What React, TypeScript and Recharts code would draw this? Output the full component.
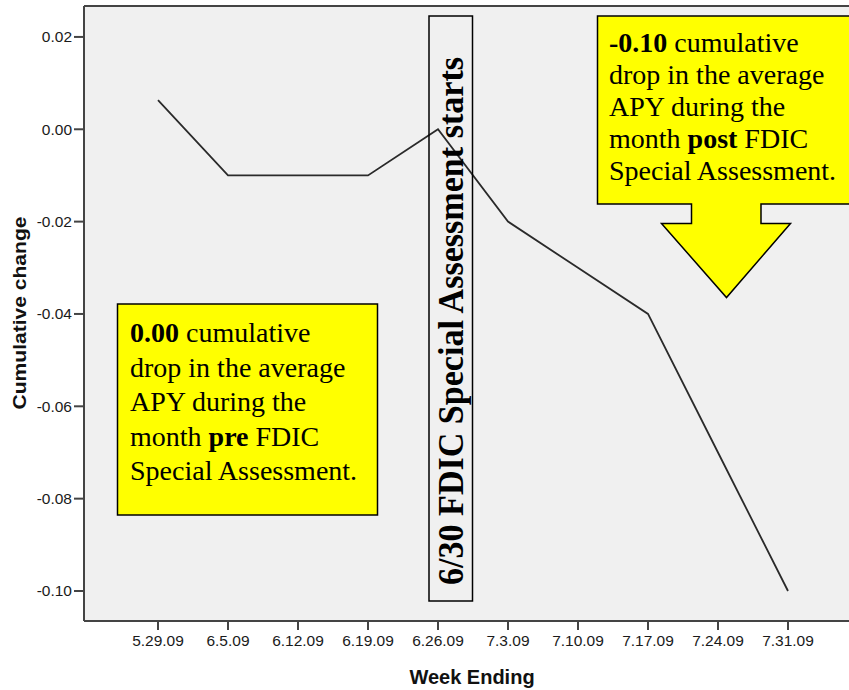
import React from "react"
import { LineChart, Line, XAxis, YAxis, CartesianGrid, ReferenceLine } from "recharts"

const weeks = ["5.29.09", "6.5.09", "6.12.09", "6.19.09", "6.26.09", "7.3.09", "7.10.09", "7.17.09", "7.24.09", "7.31.09"]
const changes = [0.0063, -0.01, -0.01, -0.01, 0, -0.02, -0.03, -0.04, -0.07, -0.1]
const yTicks = [0.02, 0, -0.02, -0.04, -0.06, -0.08, -0.1]

const preLines = ["cumulative", "drop in the average", "APY during the", "month ", "Special Assessment."]
const postLines = ["cumulative", "drop in the average", "APY during the", "month ", "Special Assessment."]

const data = weeks.map((w, i) => ({ week: w, change: changes[i] }))

const Y_TOP = 0.0267
const Y_BOTTOM = -0.1065
const serif = "'Liberation Serif', 'Times New Roman', serif"
const sans = "'Liberation Sans', Arial, sans-serif"

function NoteText({ x, y, gap, bold, word, lines }: { x: number; y: number; gap: number; bold: string; word: string; lines: string[] }) {
  return (
    <text fontFamily={serif} fontSize={28} fill="#000">
      <tspan x={x} y={y} fontWeight="bold">{bold}</tspan>
      <tspan> {lines[0]}</tspan>
      <tspan x={x} y={y + gap}>{lines[1]}</tspan>
      <tspan x={x} y={y + gap * 2}>{lines[2]}</tspan>
      <tspan x={x} y={y + gap * 3}>{lines[3]}</tspan>
      <tspan fontWeight="bold">{word}</tspan>
      <tspan> FDIC</tspan>
      <tspan x={x} y={y + gap * 4}>{lines[4]}</tspan>
    </text>
  )
}

export default function App() {
  return (
    <div style={{ position: "absolute", left: 0, top: 0, width: 849, height: 690, background: "#fff", overflow: "hidden" }}>
      <LineChart width={849} height={690} data={data} margin={{ top: 6, right: 0, bottom: 0, left: 0 }}>
        <CartesianGrid fill="#f0f0f0" fillOpacity={1} stroke="none" horizontal={false} vertical={false} />
        <XAxis
          dataKey="week"
          height={69}
          padding={{ left: 74, right: 61 }}
          tickSize={9}
          tickMargin={5}
          axisLine={{ stroke: "#444", strokeWidth: 2 }}
          tickLine={{ stroke: "#444", strokeWidth: 2 }}
          tick={{ fontSize: 15.5, fontFamily: sans, fill: "#1a1a1a" }}
          interval={0}
        />
        <YAxis
          width={84}
          type="number"
          domain={[Y_BOTTOM, Y_TOP]}
          ticks={yTicks}
          allowDataOverflow
          tickFormatter={(v: number) => v.toFixed(2)}
          tickSize={10}
          tickMargin={2}
          axisLine={{ stroke: "#444", strokeWidth: 2 }}
          tickLine={{ stroke: "#444", strokeWidth: 2 }}
          tick={{ fontSize: 15.5, fontFamily: sans, fill: "#1a1a1a" }}
        />
        <ReferenceLine y={Y_TOP} stroke="#444" strokeWidth={2} />
        <Line type="linear" dataKey="change" stroke="#2a2a2a" strokeWidth={1.8} dot={false} isAnimationActive={false} />
      </LineChart>

      <svg width={849} height={690} style={{ position: "absolute", left: 0, top: 0, pointerEvents: "none" }}>
        <text
          x={20}
          y={313}
          transform="rotate(-90 20 313)"
          textAnchor="middle"
          dominantBaseline="central"
          fontFamily={sans}
          fontWeight="bold"
          fontSize={18}
          textLength={193}
          lengthAdjust="spacingAndGlyphs"
          fill="#111"
        >
          Cumulative change
        </text>
        <text x={472} y={684} textAnchor="middle" fontFamily={sans} fontWeight="bold" fontSize={20} fill="#111">
          Week Ending
        </text>

        <rect x={429} y={16} width={43.5} height={585} fill="none" stroke="#000" strokeWidth={1.5} />
        <text
          x={462.5}
          y={321}
          transform="rotate(-90 462.5 321)"
          textAnchor="middle"
          fontFamily={serif}
          fontWeight="bold"
          fontSize={35}
          textLength={528}
          lengthAdjust="spacingAndGlyphs"
          fill="#000"
        >
          6/30 FDIC Special Assessment starts
        </text>

        <rect x={117.5} y={304} width={260} height={211} fill="#ffff00" stroke="#000" strokeWidth={1.5} />
        <NoteText x={130} y={342} gap={34.6} bold="0.00" word="pre" lines={preLines} />

        <path
          d="M597.5,16 L860,16 L860,204 L761,204 L761,223.5 L790.5,223.5 L726.5,297.5 L661.5,223.5 L691.5,223.5 L691.5,204 L597.5,204 Z"
          fill="#ffff00"
          stroke="#000"
          strokeWidth={1.5}
        />
        <NoteText x={609} y={52} gap={32.1} bold="-0.10" word="post" lines={postLines} />
      </svg>
    </div>
  )
}
